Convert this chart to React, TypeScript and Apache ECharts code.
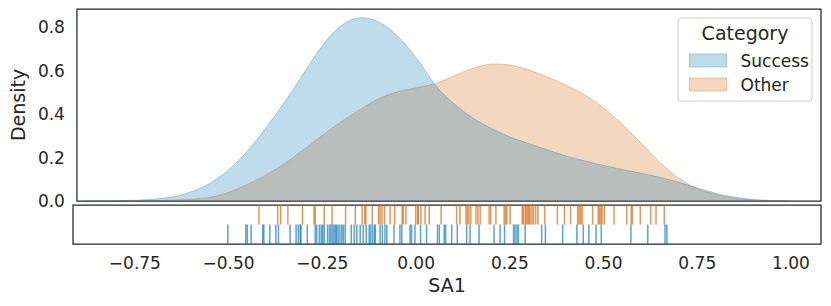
import React, { useEffect, useRef } from "react";
import * as echarts from "echarts";

// KDE curves: [SA1, density]
const successDensity: [number, number][] = [
  [-0.9, 0.0], [-0.8, 0.002], [-0.75, 0.004], [-0.7, 0.01], [-0.65, 0.022],
  [-0.6, 0.048], [-0.55, 0.09], [-0.5, 0.155], [-0.45, 0.245], [-0.4, 0.355],
  [-0.35, 0.475], [-0.3, 0.605], [-0.25, 0.73], [-0.2, 0.815], [-0.15, 0.843],
  [-0.1, 0.818], [-0.05, 0.75], [0.0, 0.645], [0.05, 0.525], [0.1, 0.441],
  [0.15, 0.378], [0.2, 0.33], [0.25, 0.292], [0.3, 0.262], [0.35, 0.233],
  [0.4, 0.205], [0.45, 0.183], [0.5, 0.162], [0.55, 0.144], [0.6, 0.127],
  [0.65, 0.108], [0.7, 0.085], [0.75, 0.059], [0.8, 0.035], [0.85, 0.017],
  [0.9, 0.007], [0.95, 0.002], [1.0, 0.0],
];
const otherDensity: [number, number][] = [
  [-0.8, 0.0], [-0.7, 0.002], [-0.65, 0.005], [-0.6, 0.009], [-0.55, 0.02],
  [-0.5, 0.045], [-0.45, 0.083], [-0.4, 0.128], [-0.35, 0.182], [-0.3, 0.246],
  [-0.25, 0.311], [-0.2, 0.372], [-0.15, 0.427], [-0.1, 0.475], [-0.05, 0.505],
  [0.0, 0.522], [0.05, 0.543], [0.1, 0.578], [0.15, 0.612], [0.2, 0.63],
  [0.25, 0.624], [0.3, 0.6], [0.35, 0.568], [0.4, 0.53], [0.45, 0.484],
  [0.5, 0.424], [0.55, 0.348], [0.6, 0.262], [0.65, 0.175], [0.7, 0.103],
  [0.75, 0.056], [0.8, 0.029], [0.85, 0.012], [0.9, 0.004], [0.95, 0.001],
  [1.0, 0.0],
];

// Rug observations
const otherRug: number[] = [
  -0.419, -0.369, -0.361, -0.342, -0.303, -0.272, -0.269, -0.245, -0.224, -0.188,
  -0.162, -0.144, -0.137, -0.134, -0.117, -0.1, -0.096, -0.091, -0.084, -0.069,
  -0.057, -0.037, -0.034, -0.027, -0.001, 0.004, 0.006, 0.013, 0.024, 0.035,
  0.067, 0.108, 0.117, 0.133, 0.137, 0.141, 0.146, 0.16, 0.165, 0.171,
  0.195, 0.199, 0.213, 0.235, 0.239, 0.242, 0.251, 0.283, 0.286, 0.291,
  0.294, 0.298, 0.301, 0.304, 0.309, 0.313, 0.319, 0.325, 0.343, 0.377,
  0.396, 0.412, 0.431, 0.435, 0.439, 0.443, 0.471, 0.486, 0.489, 0.493,
  0.496, 0.502, 0.528, 0.562, 0.574, 0.577, 0.598, 0.626, 0.64, 0.662,
];
const successRug: number[] = [
  -0.502, -0.454, -0.45, -0.44, -0.409, -0.406, -0.39, -0.374, -0.367, -0.336,
  -0.32, -0.314, -0.309, -0.307, -0.29, -0.269, -0.265, -0.258, -0.253, -0.249,
  -0.245, -0.236, -0.231, -0.227, -0.223, -0.219, -0.215, -0.212, -0.208, -0.203,
  -0.198, -0.194, -0.189, -0.173, -0.165, -0.158, -0.149, -0.141, -0.133, -0.125,
  -0.121, -0.116, -0.111, -0.109, -0.096, -0.09, -0.083, -0.078, -0.059, -0.043,
  -0.038, -0.016, -0.012, -0.003, 0.012, 0.028, 0.057, 0.062, 0.075, 0.079,
  0.095, 0.11, 0.135, 0.144, 0.168, 0.208, 0.224, 0.236, 0.26, 0.264,
  0.269, 0.273, 0.291, 0.335, 0.345, 0.391, 0.429, 0.446, 0.461, 0.48,
  0.494, 0.573, 0.618, 0.664, 0.669,
];

const xTicks: number[] = [-0.75, -0.5, -0.25, 0, 0.25, 0.5, 0.75, 1.0];
const yTicks: number[] = [0, 0.2, 0.4, 0.6, 0.8];
const categories: string[] = ["Success", "Other"];

const X_MIN = -0.915;
const X_MAX = 1.08;
const FONT = "DejaVu Sans";
const INK = "#262626";
const BLUE = "1,115,178";
const ORANGE = "213,94,0";

export default function App() {
  const ref = useRef<HTMLDivElement>(null);

  useEffect(() => {
    if (!ref.current) return;
    const chart = echarts.init(ref.current, undefined, { renderer: "svg" });
    const fmtX = (v: number) => (v < 0 ? "\u2212" : "") + Math.abs(v).toFixed(2);

    const option: echarts.EChartsOption = {
      animation: false,
      backgroundColor: "#ffffff",
      textStyle: { fontFamily: FONT, color: INK },
      grid: [
        { left: 73, top: 9, width: 748, height: 192, show: true, borderColor: INK, borderWidth: 1.25, backgroundColor: "transparent" },
        { left: 73, top: 205, width: 748, height: 39, show: true, borderColor: INK, borderWidth: 1.25, backgroundColor: "transparent" },
      ],
      xAxis: [
        {
          type: "value", gridIndex: 0, min: X_MIN, max: X_MAX,
          axisLine: { show: false }, axisTick: { show: false }, axisLabel: { show: false }, splitLine: { show: false },
        },
        {
          type: "value", gridIndex: 1, min: X_MIN, max: X_MAX,
          axisLine: { show: false }, axisTick: { show: false }, splitLine: { show: false },
          axisLabel: {
            show: true, customValues: xTicks, formatter: (v: number) => fmtX(v),
            fontFamily: FONT, fontSize: 17, color: INK, margin: 10,
          },
          name: "SA1", nameLocation: "middle", nameGap: 31,
          nameTextStyle: { fontFamily: FONT, fontSize: 19, color: INK },
        } as any,
      ],
      yAxis: [
        {
          type: "value", gridIndex: 0, min: 0, max: 0.883,
          axisLine: { show: false }, axisTick: { show: false }, splitLine: { show: false },
          axisLabel: { customValues: yTicks, formatter: (v: number) => v.toFixed(1), fontFamily: FONT, fontSize: 17, color: INK, margin: 12 },
          name: "Density", nameLocation: "middle", nameGap: 48, nameRotate: 90,
          nameTextStyle: { fontFamily: FONT, fontSize: 19, color: INK },
        } as any,
        {
          type: "value", gridIndex: 1, min: 0, max: 2,
          axisLine: { show: false }, axisTick: { show: false }, axisLabel: { show: false }, splitLine: { show: false },
        },
      ],
      legend: {
        orient: "vertical", left: 684, top: 47, itemWidth: 37, itemHeight: 13, itemGap: 7,
        icon: "rect", z: 6,
        textStyle: { fontFamily: FONT, fontSize: 17, color: INK, padding: [0, 0, 0, 9] },
        data: [
          { name: categories[0], itemStyle: { color: `rgba(${BLUE},0.25)`, borderColor: `rgba(${BLUE},0.3)`, borderWidth: 1 } },
          { name: categories[1], itemStyle: { color: `rgba(${ORANGE},0.25)`, borderColor: `rgba(${ORANGE},0.3)`, borderWidth: 1 } },
        ],
      } as any,
      graphic: [
        { type: "rect", z: 5, shape: { x: 678, y: 18, width: 134, height: 83, r: 3 }, style: { fill: "rgba(255,255,255,0.8)", stroke: "#cccccc", lineWidth: 1 } },
        { type: "text", z: 6, x: 745, y: 33, style: { text: "Category", font: `19px '${FONT}'`, fill: INK, align: "center", verticalAlign: "middle" } },
      ],
      series: [
        {
          name: categories[1], type: "line", xAxisIndex: 0, yAxisIndex: 0, data: otherDensity,
          smooth: 0.3, showSymbol: false, symbol: "none",
          lineStyle: { color: `rgba(${ORANGE},0.3)`, width: 1 },
          itemStyle: { color: `rgba(${ORANGE},0.25)` },
          areaStyle: { color: `rgba(${ORANGE},0.25)`, opacity: 1, origin: "start" },
          z: 2,
        },
        {
          name: categories[0], type: "line", xAxisIndex: 0, yAxisIndex: 0, data: successDensity,
          smooth: 0.3, showSymbol: false, symbol: "none",
          lineStyle: { color: `rgba(${BLUE},0.3)`, width: 1 },
          itemStyle: { color: `rgba(${BLUE},0.25)` },
          areaStyle: { color: `rgba(${BLUE},0.25)`, opacity: 1, origin: "start" },
          z: 3,
        },
        {
          name: "Other rug", type: "scatter", xAxisIndex: 1, yAxisIndex: 1,
          data: otherRug.map((v) => [v, 1.5]),
          symbol: "rect", symbolSize: [1.5, 19.5],
          itemStyle: { color: `rgb(${ORANGE})`, opacity: 0.65 },
          silent: true,
        },
        {
          name: "Success rug", type: "scatter", xAxisIndex: 1, yAxisIndex: 1,
          data: successRug.map((v) => [v, 0.5]),
          symbol: "rect", symbolSize: [1.5, 19.5],
          itemStyle: { color: `rgb(${BLUE})`, opacity: 0.65 },
          silent: true,
        },
      ],
    };
    chart.setOption(option);
    return () => chart.dispose();
  }, []);

  return <div ref={ref} style={{ position: "fixed", left: 0, top: 0, width: 831, height: 306 }} />;
}
